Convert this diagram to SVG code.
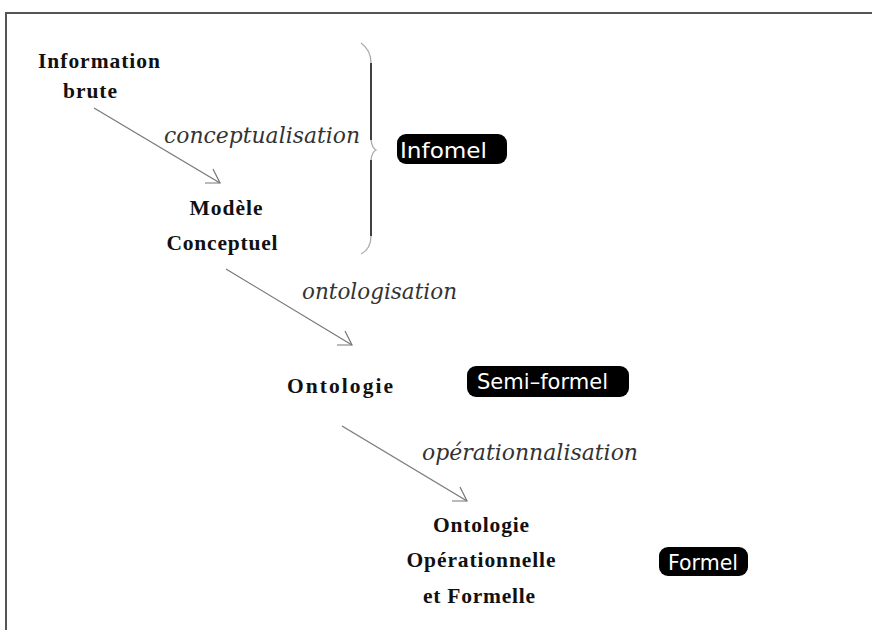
<svg xmlns="http://www.w3.org/2000/svg" width="872" height="630" viewBox="0 0 872 630">
<style>
.node{font-family:"Liberation Serif","Times New Roman",serif;font-weight:bold;font-size:21.5px;fill:#111;}
.lbl{font-family:"DejaVu Serif","Liberation Serif",serif;font-style:italic;font-size:22px;fill:#333;}
.tag rect{fill:#000;}
.tag text{font-family:"DejaVu Sans","Liberation Sans",sans-serif;font-size:22px;fill:#fff;}
.conn line,.conn polyline{stroke:#777;stroke-width:1.2;fill:none;}
</style>
<rect width="872" height="630" fill="#fff"/>
<g id="frame" stroke="#555" stroke-width="2" fill="none">
<polyline points="6,630 6,13 872,13"/>
</g>
<g id="brace">
<path d="M361,43 Q371,50 371,63" stroke="#aaa" stroke-width="1.3" fill="none"/>
<line x1="371" y1="63" x2="371" y2="140" stroke="#000" stroke-width="1.5"/>
<path d="M371,140 Q372,148 376,150 Q372,152 371,160" stroke="#aaa" stroke-width="1.3" fill="none"/>
<line x1="371" y1="160" x2="371" y2="236" stroke="#000" stroke-width="1.5"/>
<path d="M371,236 Q371,249 361,254" stroke="#aaa" stroke-width="1.3" fill="none"/>
</g>
<g id="n-info"><text class="node" x="99" y="68" text-anchor="middle" textLength="122" lengthAdjust="spacing">Information</text><text class="node" x="90" y="98" text-anchor="middle" textLength="54" lengthAdjust="spacing">brute</text></g>
<g id="n-modele"><text class="node" x="226" y="215" text-anchor="middle" textLength="73" lengthAdjust="spacing">Modèle</text><text class="node" x="222" y="250" text-anchor="middle" textLength="111" lengthAdjust="spacing">Conceptuel</text></g>
<g id="n-onto"><text class="node" x="340" y="393" text-anchor="middle" textLength="106" lengthAdjust="spacing">Ontologie</text></g>
<g id="n-oof"><text class="node" x="481" y="532" text-anchor="middle" textLength="96" lengthAdjust="spacing">Ontologie</text><text class="node" x="481" y="567" text-anchor="middle" textLength="149" lengthAdjust="spacing">Opérationnelle</text><text class="node" x="479" y="603" text-anchor="middle" textLength="112" lengthAdjust="spacing">et Formelle</text></g>
<g id="connectors" class="conn">
<line x1="94" y1="108" x2="220" y2="183"/>
<polyline points="205,183 220,183 213,169"/>
<line x1="226" y1="269" x2="352" y2="345"/>
<polyline points="337,345 352,345 345,331"/>
<line x1="342" y1="426" x2="467" y2="501"/>
<polyline points="452,501 467,501 460,487"/>
</g>
<g id="labels">
<text class="lbl" x="164" y="143" textLength="196" lengthAdjust="spacingAndGlyphs">conceptualisation</text>
<text class="lbl" x="302" y="299" textLength="155" lengthAdjust="spacingAndGlyphs">ontologisation</text>
<text class="lbl" x="422" y="460" textLength="216" lengthAdjust="spacingAndGlyphs">opérationnalisation</text>
</g>
<g id="tag-informel" class="tag"><rect x="397" y="134" width="110" height="30" rx="9"/><text x="400" y="158" textLength="87" lengthAdjust="spacingAndGlyphs">Infomel</text></g>
<g id="tag-semiformel" class="tag"><rect x="467" y="366" width="162" height="31" rx="9"/><text x="477" y="389" textLength="131" lengthAdjust="spacingAndGlyphs">Semi–formel</text></g>
<g id="tag-formel" class="tag"><rect x="659" y="547" width="89" height="29" rx="9"/><text x="668" y="570" textLength="70" lengthAdjust="spacingAndGlyphs">Formel</text></g>
</svg>
